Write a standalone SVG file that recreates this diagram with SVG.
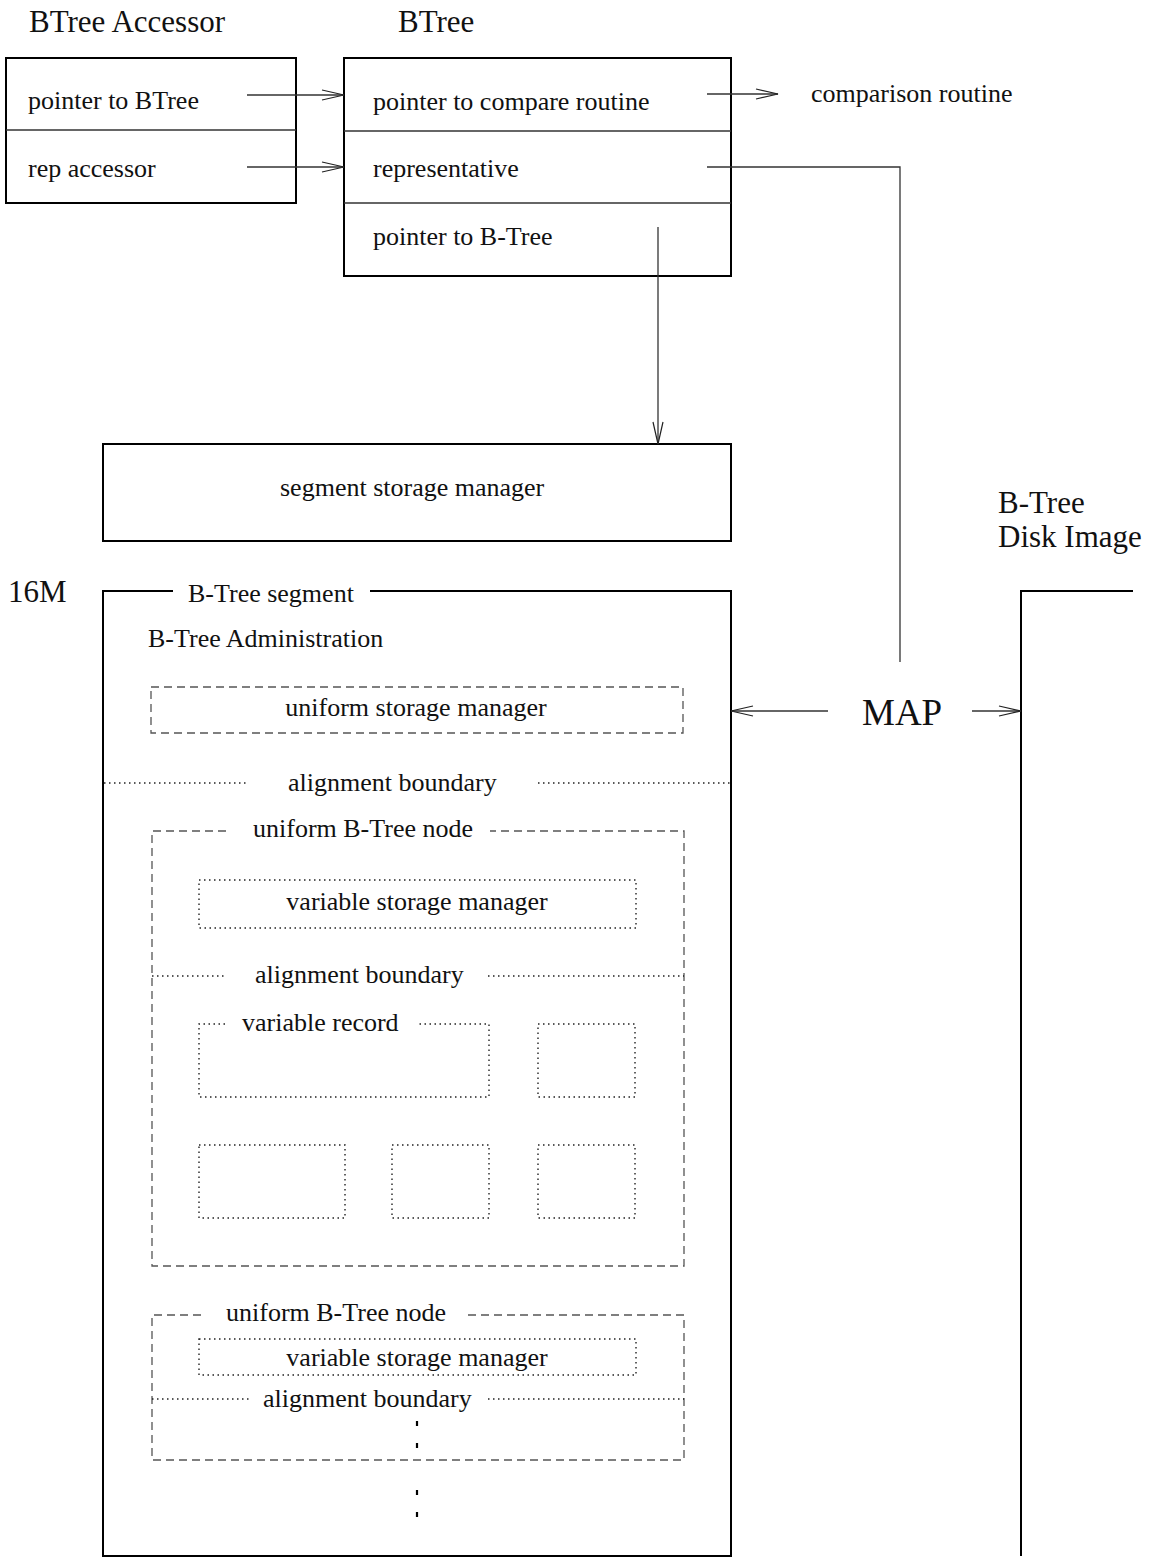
<svg xmlns="http://www.w3.org/2000/svg" width="1152" height="1558" viewBox="0 0 1152 1558">
  <defs>
    <marker id="openArrow" markerUnits="userSpaceOnUse" markerWidth="24" markerHeight="12" refX="22" refY="5" orient="auto" overflow="visible">
      <path d="M0,0 L22,5 L0,10" fill="none" stroke="#222" stroke-width="1.2"/>
    </marker>
    <style>
      text { font-family: "Liberation Serif", "Times New Roman", serif; fill: #111; }
      .t { font-size: 26px; }
      .title { font-size: 31px; }
      .map { font-size: 37px; }
      .box { fill: none; stroke: #000; stroke-width: 2; }
      .rule { fill: none; stroke: #333; stroke-width: 1.5; }
      .conn { fill: none; stroke: #333; stroke-width: 1.3; }
      .dash { fill: none; stroke: #555; stroke-width: 1.3; stroke-dasharray: 8 5; }
      .dot { fill: none; stroke: #222; stroke-width: 1.4; stroke-dasharray: 1.5 3.5; }
      .tick { stroke: #000; stroke-width: 2.2; }
    </style>
  </defs>

  <!-- accessor object -->
  <g id="btree-accessor">
    <text class="title" x="29" y="32">BTree Accessor</text>
    <rect class="box" x="6" y="58" width="290" height="145"/>
    <line class="rule" x1="6" y1="130" x2="296" y2="130"/>
    <text class="t" x="28" y="109">pointer to BTree</text>
    <text class="t" x="28" y="177">rep accessor</text>
  </g>

  <!-- BTree handle object -->
  <g id="btree">
    <text class="title" x="398" y="32">BTree</text>
    <rect class="box" x="344" y="58" width="387" height="218"/>
    <line class="rule" x1="344" y1="131" x2="731" y2="131"/>
    <line class="rule" x1="344" y1="203" x2="731" y2="203"/>
    <text class="t" x="373" y="110">pointer to compare routine</text>
    <text class="t" x="373" y="177">representative</text>
    <text class="t" x="373" y="245">pointer to B-Tree</text>
  </g>

  <g id="comparison-routine">
    <text class="t" x="811" y="102">comparison routine</text>
  </g>

  <g id="segment-storage-manager">
    <rect class="box" x="103" y="444" width="628" height="97"/>
    <text class="t" x="280" y="496">segment storage manager</text>
  </g>

  <!-- segment address space -->
  <g id="btree-segment">
    <text class="title" x="8" y="602">16M</text>
    <path class="box" d="M173,591 H103 V1556 H731 V591 H370"/>
    <text class="t" x="188" y="602">B-Tree segment</text>
    <text class="t" x="148" y="647">B-Tree Administration</text>
  </g>

  <g id="uniform-storage-manager">
    <rect class="dash" x="151" y="687" width="532" height="46"/>
    <text class="t" x="416" y="716" text-anchor="middle">uniform storage manager</text>
  </g>

  <g id="alignment-boundary-1">
    <line class="dot" x1="104" y1="783" x2="248" y2="783"/>
    <text class="t" x="288" y="791">alignment boundary</text>
    <line class="dot" x1="538" y1="783" x2="731" y2="783"/>
  </g>

  <!-- first node, fully expanded -->
  <g id="uniform-node-1">
    <path class="dash" d="M226,831 H152 V1266 H684 V831 H490"/>
    <text class="t" x="253" y="837">uniform B-Tree node</text>
  </g>

  <g id="variable-storage-manager-1">
    <rect class="dot" x="199" y="880" width="437" height="48"/>
    <text class="t" x="417" y="910" text-anchor="middle">variable storage manager</text>
  </g>

  <g id="alignment-boundary-2">
    <line class="dot" x1="152" y1="976" x2="225" y2="976"/>
    <text class="t" x="255" y="983">alignment boundary</text>
    <line class="dot" x1="488" y1="976" x2="684" y2="976"/>
  </g>

  <g id="variable-record">
    <path class="dot" d="M225,1024 H199 V1097 H489 V1024 H416"/>
    <text class="t" x="242" y="1031">variable record</text>
  </g>
  <g id="record-2"><rect class="dot" x="538" y="1024" width="97" height="73"/></g>
  <g id="record-3"><rect class="dot" x="199" y="1145" width="146" height="73"/></g>
  <g id="record-4"><rect class="dot" x="392" y="1145" width="97" height="73"/></g>
  <g id="record-5"><rect class="dot" x="538" y="1145" width="97" height="73"/></g>

  <!-- second node, abbreviated -->
  <g id="uniform-node-2">
    <path class="dash" d="M201,1315 H152 V1460 H684 V1315 H465"/>
    <text class="t" x="226" y="1321">uniform B-Tree node</text>
  </g>

  <g id="variable-storage-manager-2">
    <rect class="dot" x="199" y="1339" width="437" height="36"/>
    <text class="t" x="417" y="1366" text-anchor="middle">variable storage manager</text>
  </g>

  <g id="alignment-boundary-3">
    <line class="dot" x1="152" y1="1399" x2="251" y2="1399"/>
    <text class="t" x="263" y="1407">alignment boundary</text>
    <line class="dot" x1="488" y1="1399" x2="684" y2="1399"/>
  </g>

  <g id="continuation">
    <line class="tick" x1="417" y1="1421" x2="417" y2="1426"/>
    <line class="tick" x1="417" y1="1443" x2="417" y2="1448"/>
    <line class="tick" x1="417" y1="1490" x2="417" y2="1495"/>
    <line class="tick" x1="417" y1="1512" x2="417" y2="1517"/>
  </g>

  <g id="disk-image">
    <text class="title" x="998" y="513">B-Tree</text>
    <text class="title" x="998" y="547">Disk Image</text>
    <path class="box" d="M1133,591 H1021 V1556"/>
  </g>

  <g id="map">
    <text class="map" x="862" y="725">MAP</text>
  </g>

  <!-- connectors -->
  <g id="connectors">
    <line class="conn" x1="247" y1="95" x2="344" y2="95" marker-end="url(#openArrow)"/>
    <line class="conn" x1="247" y1="167" x2="344" y2="167" marker-end="url(#openArrow)"/>
    <line class="conn" x1="707" y1="94" x2="778" y2="94" marker-end="url(#openArrow)"/>
    <polyline class="conn" points="707,167 900,167 900,662"/>
    <line class="conn" x1="658" y1="227" x2="658" y2="444" marker-end="url(#openArrow)"/>
    <line class="conn" x1="828" y1="711" x2="731" y2="711" marker-end="url(#openArrow)"/>
    <line class="conn" x1="972" y1="711" x2="1021" y2="711" marker-end="url(#openArrow)"/>
  </g>
</svg>
